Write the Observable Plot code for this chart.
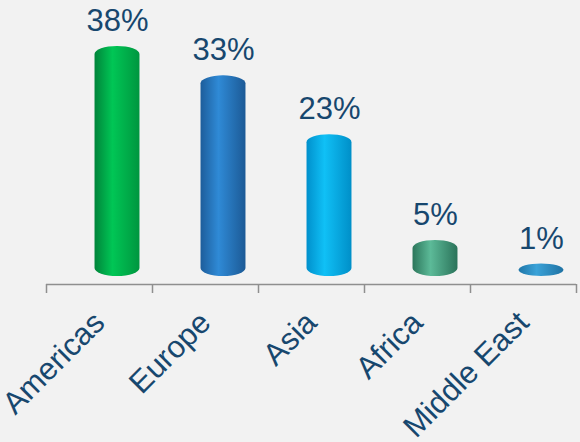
<!DOCTYPE html>
<html><head><meta charset="utf-8">
<script src="https://cdn.jsdelivr.net/npm/d3@7"></script>
<script src="https://cdn.jsdelivr.net/npm/@observablehq/plot@0.6"></script>
<style>html,body{margin:0;padding:0;background:#f2f2f2;} svg{display:block}</style>
</head><body><div id="chart"></div>
<script>
const regions = ["Americas", "Europe", "Asia", "Africa", "Middle East"];
const shares = [38, 33, 23, 5, 1];
const valueLabels = ["38%", "33%", "23%", "5%", "1%"];
// gradient stops per bar: left edge, highlight, right edge
const gradients = [
  ["#00843a", "#00c655", "#00963f"],
  ["#1d5d9b", "#2f8ad6", "#1c5a96"],
  ["#0090cc", "#10c0f6", "#008fc8"],
  ["#2c765b", "#5cba98", "#2b735a"],
  ["#1f76a8", "#3aa2d8", "#1f72a3"]
];

const data = regions.map((r, i) => ({i, region: r, share: shares[i], label: valueLabels[i]}));
const yMin = -1.36, yMax = 46.94;
const boundaries = d3.range(regions.length + 1).map(k => k - 0.5);
const half = 0.212;
const textColor = "#17476e";

const chart = Plot.plot({
  width: 580,
  height: 442,
  marginTop: 0,
  marginLeft: 46,
  marginRight: 4,
  marginBottom: 158,
  style: {background: "#f2f2f2", fontFamily: "'Liberation Sans', Arial, sans-serif"},
  x: {domain: [-0.5, regions.length - 0.5], axis: null, label: null},
  y: {domain: [yMin, yMax], axis: null, label: null},
  color: {type: "ordinal", domain: regions, range: regions.map((_, i) => `url(#grad${i})`)},
  marks: [
    Plot.ruleY([yMin], {stroke: "#8f8f8f", strokeWidth: 1.6}),
    Plot.axisX(boundaries, {tickSize: 9, tickFormat: () => "", label: null, stroke: "#8f8f8f", strokeWidth: 1.5, strokeOpacity: 1}),
    Plot.rectY(data, {
      x1: d => d.i - half, x2: d => d.i + half,
      y1: 0, y2: "share",
      fill: "region", dx: 18,
      insetTop: -6.6,
      rx: 22.5, ry: 8
    }),
    Plot.text(data, {
      x: "i", y: "share", text: "label", dx: 18, dy: -22,
      lineAnchor: "bottom", fontSize: 31, fill: textColor
    }),
    Plot.text(data, {
      x: "i", y: () => yMin, text: "region", dx: 7, dy: 40,
      rotate: -45, textAnchor: "end", lineAnchor: "bottom",
      fontSize: 31, fill: textColor
    })
  ]
});

const svg = d3.select(chart);
const defs = svg.insert("defs", ":first-child");
gradients.forEach((g, i) => {
  const lg = defs.append("linearGradient").attr("id", `grad${i}`)
    .attr("x1", "0").attr("x2", "1").attr("y1", "0").attr("y2", "0");
  lg.append("stop").attr("offset", "0%").attr("stop-color", g[0]);
  lg.append("stop").attr("offset", "40%").attr("stop-color", g[1]);
  lg.append("stop").attr("offset", "100%").attr("stop-color", g[2]);
});

document.getElementById("chart").appendChild(chart);
</script>
</body></html>
